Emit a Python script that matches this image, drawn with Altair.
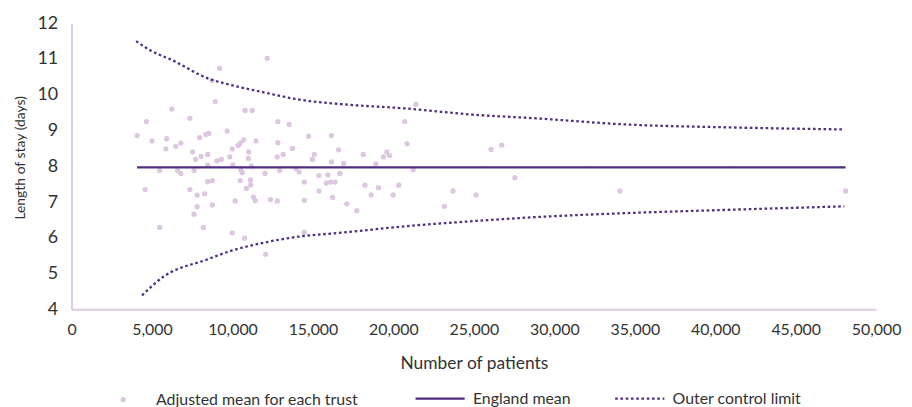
import altair as alt
import pandas as pd

# ---- data ----
trust_patients = [
    6230, 4650, 7350, 4070, 5000, 5910, 6790, 6480, 5860, 7960,
    8350, 7530, 8040, 7700, 8460, 5480, 6590, 6790, 7610, 8460,
    4570, 7350, 7800, 8270, 8460, 7800, 7610, 5480, 8190, 12160,
    9200, 8720, 8930, 10780, 11230, 12820, 13520, 8520, 9670, 14730,
    16150, 11460, 10700, 10480, 10350, 9980, 12820, 13720, 11010, 10990,
    9830, 9030, 9300, 12780, 13150, 15080, 14960, 16150, 16590, 16910,
    10020, 11170, 10510, 10600, 12020, 12940, 13950, 14140, 11110, 11130,
    10480, 10860, 8750, 14460, 15370, 15930, 15820, 16090, 16380, 16670,
    15370, 16220, 8750, 10170, 11300, 11420, 12360, 12780, 14460, 17100,
    9980, 10760, 14460, 12060, 21400, 20700, 20850, 26070, 26730, 18130,
    19590, 19750, 19380, 18910, 21230, 27550, 18230, 19070, 20330, 18620,
    19980, 17720, 23700, 25140, 23170, 34070, 48100,
]
trust_los = [
    9.60, 9.25, 9.34, 8.86, 8.71, 8.77, 8.65, 8.56, 8.49, 8.80,
    8.89, 8.40, 8.28, 8.19, 8.33, 7.88, 7.88, 7.80, 7.88, 8.03,
    7.35, 7.35, 7.19, 7.23, 7.57, 6.87, 6.66, 6.29, 6.29, 11.02,
    10.74, 10.40, 9.81, 9.56, 9.56, 9.25, 9.17, 8.92, 8.98, 8.84,
    8.86, 8.71, 8.74, 8.65, 8.58, 8.49, 8.66, 8.50, 8.40, 8.22,
    8.26, 8.15, 8.19, 8.26, 8.33, 8.33, 8.19, 8.12, 8.46, 8.08,
    8.04, 8.01, 7.90, 7.82, 7.80, 7.88, 7.93, 7.84, 7.62, 7.48,
    7.60, 7.38, 7.60, 7.56, 7.74, 7.76, 7.53, 7.56, 7.56, 7.80,
    7.31, 7.13, 6.92, 7.03, 7.14, 7.04, 7.07, 7.03, 7.05, 6.95,
    6.14, 5.99, 6.15, 5.54, 9.73, 9.25, 8.63, 8.47, 8.59, 8.33,
    8.40, 8.30, 8.26, 8.07, 7.90, 7.68, 7.47, 7.40, 7.47, 7.20,
    7.20, 6.76, 7.31, 7.20, 6.88, 7.31, 7.31,
]

mean_patients = [4070, 48100]
england_mean = 7.97

upper_patients = [4010, 5020, 6250, 8460, 9940, 12020, 14070, 16960, 20660,
                  24750, 28890, 34440, 40620, 48020]
upper_limit = [11.50, 11.21, 10.97, 10.46, 10.27, 10.06, 9.87, 9.73, 9.62,
               9.45, 9.34, 9.17, 9.09, 9.03]
lower_patients = [4380, 5640, 8460, 9940, 12020, 14070, 16960, 20660, 24750,
                  28890, 34440, 40620, 48020]
lower_limit = [4.39, 4.89, 5.40, 5.64, 5.87, 6.03, 6.15, 6.32, 6.46, 6.58,
               6.69, 6.78, 6.88]

x_ticks = [0, 5000, 10000, 15000, 20000, 25000, 30000, 35000, 40000, 45000, 50000]
y_ticks = [4, 5, 6, 7, 8, 9, 10, 11, 12]

S_POINTS = "Adjusted mean for each trust"
S_MEAN = "England mean"
S_LIMIT = "Outer control limit"

# ---- styles ----
LILAC = "#dcc6e0"
AXIS_LILAC = "#dccbe4"
PURPLE = "#4f2d7f"
TEXT = "#333333"
FONT = "Lato"

points_df = pd.DataFrame({"patients": trust_patients, "los": trust_los,
                          "series": S_POINTS})
mean_df = pd.DataFrame({"patients": mean_patients,
                        "los": [england_mean] * len(mean_patients),
                        "line": S_MEAN, "part": "mean"})
upper_df = pd.DataFrame({"patients": upper_patients, "los": upper_limit,
                         "line": S_LIMIT, "part": "upper"})
lower_df = pd.DataFrame({"patients": lower_patients, "los": lower_limit,
                         "line": S_LIMIT, "part": "lower"})
lines_df = pd.concat([mean_df, upper_df, lower_df], ignore_index=True)

x_enc = alt.X(
    "patients:Q",
    scale=alt.Scale(domain=[0, 50000], nice=False, zero=True),
    axis=alt.Axis(values=x_ticks, format=",d", title="Number of patients",
                  labelFontSize=16, titleFontSize=17.5, labelPadding=12,
                  titlePadding=18, labelFlush=False),
)
y_enc = alt.Y(
    "los:Q",
    scale=alt.Scale(domain=[4, 12], nice=False, zero=False),
    axis=alt.Axis(values=y_ticks, title="Length of stay (days)",
                  labelFontSize=18, titleFontSize=14, labelPadding=14,
                  titlePadding=10, titleY=135),
)

pts = alt.Chart(points_df).mark_point(filled=True, size=28, opacity=1).encode(
    x=x_enc,
    y=y_enc,
    color=alt.Color(
        "series:N",
        scale=alt.Scale(domain=[S_POINTS], range=[LILAC]),
        legend=alt.Legend(orient="none", legendX=44, legendY=371,
                          title=None, symbolSize=28, symbolType="circle",
                          labelOffset=25, labelFontSize=16, labelLimit=0,
                          padding=0),
    ),
)

lines = alt.Chart(lines_df).mark_line(
    color=PURPLE, strokeWidth=2.3, strokeCap="butt", interpolate="monotone"
).encode(
    x=x_enc,
    y=y_enc,
    detail="part:N",
    strokeDash=alt.StrokeDash(
        "line:N",
        scale=alt.Scale(domain=[S_MEAN, S_LIMIT], range=[[1, 0], [2.6, 2.7]]),
        legend=alt.Legend(orient="none", legendX=345, legendY=352,
                          direction="horizontal", title=None,
                          symbolSize=2450, symbolType="stroke",
                          symbolStrokeColor=PURPLE, symbolStrokeWidth=2.3,
                          labelOffset=7, columnPadding=39, labelLimit=0,
                          labelFontSize=16, padding=0),
    ),
)

chart = alt.layer(pts, lines).properties(
    width=810, height=288,
    autosize=alt.AutoSizeParams(type="none"),
    padding={"left": 64, "top": 14, "right": 28, "bottom": 100},
).configure_view(stroke=None).configure_axis(
    grid=False, ticks=False, domainColor=AXIS_LILAC, domainWidth=2,
    labelColor=TEXT, titleColor=TEXT, labelFont=FONT, titleFont=FONT,
    titleFontWeight="normal",
).configure_legend(
    labelColor=TEXT, labelFont=FONT,
)

chart.save("out.html", embed_options={"renderer": "svg", "actions": False})
